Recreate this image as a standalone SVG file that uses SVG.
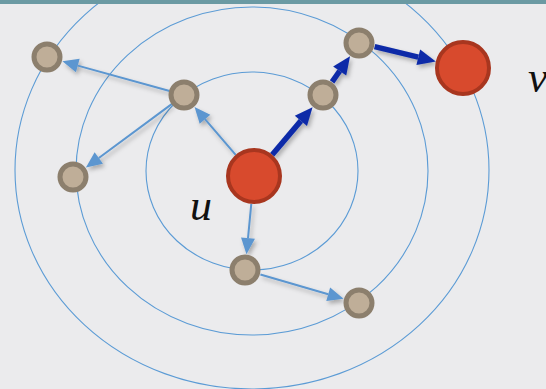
<svg xmlns="http://www.w3.org/2000/svg" width="546" height="389" viewBox="0 0 546 389">
  <style>
    .ring { fill: none; stroke: #5b9bd5; stroke-width: 1.1; }
    .light { fill: none; stroke: #5b96d0; stroke-width: 2; }
    .dark { fill: none; stroke: #0a2aa8; stroke-width: 5.5; }
    .gray { fill: #bfae98; stroke: #8c7f6d; stroke-width: 5; }
    .red { fill: #d84a2d; stroke: #a8361f; stroke-width: 4; }
    .lbl { font-family: "Liberation Serif", "DejaVu Serif", serif; font-style: italic; font-size: 44px; fill: #111; }
  </style>
  <defs>
    <marker id="ah-light" markerUnits="userSpaceOnUse" markerWidth="18" markerHeight="16" refX="0" refY="7" orient="auto" overflow="visible">
      <path d="M0,0 L16,7 L0,14 Z" fill="#5b96d0"/>
    </marker>
    <marker id="ah-dark" markerUnits="userSpaceOnUse" markerWidth="20" markerHeight="18" refX="0" refY="8" orient="auto" overflow="visible">
      <path d="M0,0 L18,8 L0,16 Z" fill="#0a2aa8"/>
    </marker>
    <filter id="shadow" x="-20%" y="-20%" width="140%" height="140%">
      <feDropShadow dx="2" dy="3" stdDeviation="2" flood-color="#000" flood-opacity="0.28"/>
    </filter>
  </defs>
  <rect x="0" y="0" width="546" height="389" fill="#ebebed"/>
  <g id="rings">
    <ellipse class="ring" cx="252" cy="171" rx="106" ry="99"/>
    <ellipse class="ring" cx="252" cy="171" rx="176" ry="164"/>
    <ellipse class="ring" cx="252" cy="170" rx="237" ry="219"/>
  </g>
  <rect x="0" y="0" width="546" height="4" fill="#6b9aa3"/>
  <g id="connectors" filter="url(#shadow)">
    <line class="light" x1="235.7" y1="154.8" x2="205" y2="119.2" marker-end="url(#ah-light)"/>
    <line class="light" x1="169.6" y1="91" x2="77.8" y2="65.6" marker-end="url(#ah-light)"/>
    <line class="light" x1="172" y1="103.9" x2="98.8" y2="158" marker-end="url(#ah-light)"/>
    <line class="light" x1="251.3" y1="203.9" x2="248" y2="238.2" marker-end="url(#ah-light)"/>
    <line class="light" x1="260.4" y1="274.5" x2="328.2" y2="294.2" marker-end="url(#ah-light)"/>
    <line class="dark" x1="272.2" y1="154.7" x2="300.9" y2="120.9" marker-end="url(#ah-dark)"/>
    <line class="dark" x1="332.1" y1="81.8" x2="339.7" y2="71" marker-end="url(#ah-dark)"/>
    <line class="dark" x1="374.6" y1="46.7" x2="418.3" y2="57.2" marker-end="url(#ah-dark)"/>
  </g>
  <g id="node-u"><circle class="red" cx="254" cy="176" r="26"/></g>
  <g id="node-v"><circle class="red" cx="463" cy="68" r="26"/></g>
  <g id="node-a"><circle class="gray" cx="47" cy="57" r="13"/></g>
  <g id="node-b"><circle class="gray" cx="184" cy="95" r="13"/></g>
  <g id="node-c"><circle class="gray" cx="73" cy="177" r="13"/></g>
  <g id="node-d"><circle class="gray" cx="323" cy="95" r="13"/></g>
  <g id="node-e"><circle class="gray" cx="359" cy="43" r="13"/></g>
  <g id="node-f"><circle class="gray" cx="245" cy="270" r="13"/></g>
  <g id="node-g"><circle class="gray" cx="359" cy="303" r="13"/></g>
  <g id="labels">
    <text class="lbl" x="190" y="220">u</text>
    <text class="lbl" x="528" y="92">v</text>
  </g>
</svg>
